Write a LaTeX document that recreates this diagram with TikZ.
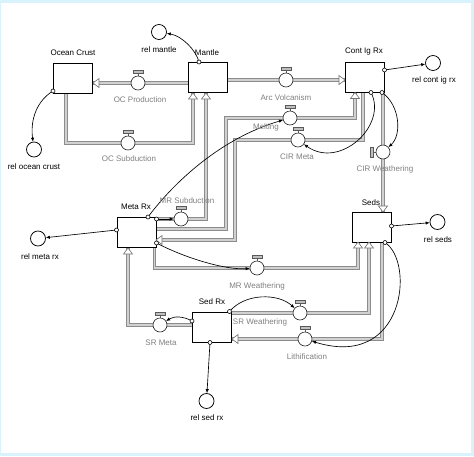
\documentclass[tikz,border=0pt]{standalone}
\usepackage{fontspec}
\setmainfont{Liberation Sans}
\usetikzlibrary{arrows.meta}
\tikzset{
 pipe/.style={line width=0.8pt, double distance=1.6pt, draw=black!45, double=black!18},
 stockbox/.style={draw=black, line width=1pt, fill=white, minimum width=39pt, minimum height=30pt, inner sep=0pt},
 valvec/.style={circle, draw=black!85, fill=white, line width=0.6pt, minimum size=14pt, inner sep=0pt},
 ghost/.style={circle, draw=black, fill=white, line width=0.75pt, minimum size=15pt, inner sep=0pt},
 slabel/.style={font=\fontsize{8}{9}\selectfont, text=black, inner sep=0pt},
 vlabel/.style={font=\fontsize{8}{9}\selectfont, text=black!50, inner sep=0pt},
 conn/.style={line width=0.65pt, draw=black, -{Latex[length=4pt,width=3.4pt]}},
 cdot/.style={circle, draw=black, fill=white, line width=0.6pt, minimum size=4pt, inner sep=0pt},
}
\newcommand\flowtip[3]{\draw[black!55, fill=white, line width=0.6pt, shift={(#1,#2)}, rotate=#3] (0,0) -- (-6,4.5) -- (-6,-4.5) -- cycle;}
\newcommand\mkvalve[3]{%
 \draw[black!65, fill=black!25, line width=0.4pt] (#2-5,#3-12.5) rectangle (#2+5,#3-10);
 \draw[black!65, line width=0.6pt] (#2,#3-10) -- (#2,#3-7);
 \node[valvec] (#1) at (#2,#3) {};}
\newcommand\mkvalveL[3]{%
 \draw[black!65, fill=black!25, line width=0.4pt] (#2-12.5,#3-5) rectangle (#2-10,#3+5);
 \draw[black!65, line width=0.6pt] (#2-10,#3) -- (#2-7,#3);
 \node[valvec] (#1) at (#2,#3) {};}
\begin{document}
\begin{tikzpicture}[x=1pt,y=-1pt]
\useasboundingbox (0,0) rectangle (474,456);
\fill[cyan!15!white] (0,0) rectangle (474,456);
\fill[white] (0.5,3) rectangle (471,452.5);

% stocks (placed first so pipes can refer to them; redrawn later on top)
\node[stockbox] (oc) at (73,78.5) {};
\node[stockbox] (mantle) at (207.5,77.5) {};
\node[stockbox] (cont) at (364.5,77) {};
\node[stockbox] (meta) at (136.5,232.5) {};
\node[stockbox] (seds) at (371.5,227) {};
\node[stockbox] (sedrx) at (212,327) {};

% valve positions
\coordinate (ocprodP) at (138,83);
\coordinate (ocsubP) at (128,143);
\coordinate (arcvolP) at (286,80);
\coordinate (meltingP) at (290,118);
\coordinate (cirmetaP) at (298,140);
\coordinate (cirweathP) at (383,152);
\coordinate (mrsubP) at (181,219);
\coordinate (mrweathP) at (257,268);
\coordinate (srweathP) at (300,313);
\coordinate (lithP) at (305,339);
\coordinate (srmetaP) at (160,325);
\coordinate (meltA) at (226,118);
\coordinate (cirA) at (235,140);

% pipes
\draw[pipe] (mantle.west|-ocprodP) -- (oc.east|-ocprodP);
\draw[pipe] ([xshift=-7pt]oc.south) |- (ocsubP) -| ([xshift=-14.5pt]mantle.south);
\draw[pipe] (mantle.east|-arcvolP) -- (cont.west|-arcvolP);
\draw[pipe] (meta.east|-mrsubP) -| ([xshift=-1.5pt]mantle.south);
\draw[pipe] ([yshift=3.5pt]meta.east) -| (meltA) -- (meltingP) -| ([xshift=-9.5pt]cont.south);
\draw[pipe] ([xshift=-1.5pt]cont.south) |- (cirmetaP) -- (cirA) |- ([yshift=-7.5pt]meta.east);
\draw[pipe] (cont.south-|cirweathP) -- (seds.north-|cirweathP);
\draw[pipe] ([xshift=-2pt]meta.south east) |- (mrweathP) -| ([xshift=-13.5pt]seds.south);
\draw[pipe] (sedrx.east|-srweathP) -| ([xshift=-2.5pt]seds.south);
\draw[pipe] ([xshift=10.5pt]seds.south) |- (lithP) -- (sedrx.east|-lithP);
\draw[pipe] (sedrx.west|-srmetaP) -| ([xshift=-8.5pt]meta.south);

% stocks on top
\node[stockbox] at (oc) {};
\node[stockbox] at (mantle) {};
\node[stockbox] at (cont) {};
\node[stockbox] at (meta) {};
\node[stockbox] at (seds) {};
\node[stockbox] at (sedrx) {};

% flow arrowheads
\flowtip{93}{83}{180}
\flowtip{193}{93}{90}
\flowtip{206}{93}{90}
\flowtip{345}{80}{0}
\flowtip{355}{92.5}{90}
\flowtip{383}{212}{270}
\flowtip{156}{240}{180}
\flowtip{358}{242}{90}
\flowtip{369}{242}{90}
\flowtip{232}{339}{180}
\flowtip{128}{248}{90}

% valves
\mkvalve{ocprod}{138}{83}
\mkvalve{ocsub}{128}{143}
\mkvalve{arcvol}{286}{80}
\mkvalve{melting}{290}{118}
\mkvalve{cirmeta}{298}{140}
\mkvalveL{cirweath}{383}{152}
\mkvalve{mrsub}{181}{219}
\mkvalve{mrweath}{257}{268}
\mkvalve{srweath}{300}{313}
\mkvalve{lith}{305}{339}
\mkvalve{srmeta}{160}{325}

% ghosts
\node[ghost] (relmantle) at (159,32) {};
\node[ghost] (relocean) at (34,149.5) {};
\node[ghost] (relcont) at (433,63) {};
\node[ghost] (relmeta) at (38,238.5) {};
\node[ghost] (relseds) at (437.5,222) {};
\node[ghost] (relsedrx) at (206.5,401) {};

% connectors
\coordinate (c1) at ([yshift=-12.5pt]oc.west);
\coordinate (c2) at ([xshift=-8.5pt]mantle.north);
\coordinate (c3) at ([yshift=7pt]cont.east);
\coordinate (c4) at ([xshift=6.5pt]cont.south);
\coordinate (c5) at ([xshift=17.5pt]cont.south);
\coordinate (c6) at ([xshift=11.5pt]meta.north);
\coordinate (c7) at ([yshift=2.5pt]meta.west);
\coordinate (c8) at ([yshift=13.5pt]meta.east);
\coordinate (c9) at ([yshift=-10.5pt]meta.east);
\coordinate (c10) at ([yshift=1pt]seds.east);
\coordinate (c11) at ([xshift=13.5pt]seds.south);
\coordinate (c12) at ([xshift=-2.5pt]sedrx.north east);
\coordinate (c13) at ([yshift=6pt]sedrx.west);
\coordinate (c14) at ([xshift=-2pt]sedrx.south);

\draw[conn] (c1) .. controls (38,100) and (30,118) .. (relocean);
\draw[conn] (c2) .. controls (196,50) and (182,36) .. (relmantle);
\draw[conn] (c3) -- (relcont);
\draw[conn] (c4) .. controls (388,125) and (340,170) .. (cirmeta);
\draw[conn] (c5) .. controls (400,105) and (402,135) .. (cirweath);
\draw[conn] (c6) .. controls (168,190) and (215,140) .. (melting);
\draw[conn] (c7) -- (relmeta);
\draw[conn] (c8) -- (mrsub);
\draw[conn] (c9) .. controls (185,258) and (225,270) .. (mrweath);
\draw[conn] (c10) -- (relseds);
\draw[conn] (c11) .. controls (415,262) and (405,370) .. (lith);
\draw[conn] (c12) .. controls (245,293) and (278,293) .. (srweath);
\draw[conn] (c13) .. controls (183,316) and (174,316) .. (srmeta);
\draw[conn] (c14) -- (relsedrx);

\foreach \c in {c1,c2,c3,c4,c5,c6,c7,c8,c9,c10,c11,c12,c13,c14}
  \node[cdot] at (\c) {};

% stock labels
\node[slabel] (locean) at (73,53) {Ocean Crust};
\node[slabel] (lmantle) at (207,53) {Mantle};
\node[slabel] (lcont) at (364,52) {Cont Ig Rx};
\node[slabel] (lmeta) at (136,207) {Meta Rx};
\node[slabel] (lseds) at (371,203) {Seds};
\node[slabel] (lsedrx) at (212,302) {Sed Rx};

% ghost labels
\node[slabel] (lrelmantle) at (159,50) {rel mantle};
\node[slabel] (lrelocean) at (34,167) {rel ocean crust};
\node[slabel] (lrelcont) at (434,80) {rel cont ig rx};
\node[slabel] (lrelmeta) at (40,257) {rel meta rx};
\node[slabel] (lrelseds) at (438,240) {rel seds};
\node[slabel] (lrelsedrx) at (207,418) {rel sed rx};

% valve labels
\node[vlabel] (locprod) at (140,100) {OC Production};
\node[vlabel] (locsub) at (129,159) {OC Subduction};
\node[vlabel] (larcvol) at (286,98) {Arc Volcanism};
\node[vlabel] (lmelting) at (266,127) {Melting};
\node[vlabel] (lcirmeta) at (297,157) {CIR Meta};
\node[vlabel] (lcirweath) at (385,169) {CIR Weathering};
\node[vlabel] (lmrsub) at (187,201) {MR Subduction};
\node[vlabel] (lmrweath) at (257,286) {MR Weathering};
\node[vlabel] (lsrweath) at (260,322) {SR Weathering};
\node[vlabel] (llith) at (307,357) {Lithification};
\node[vlabel] (lsrmeta) at (161,343) {SR Meta};
\end{tikzpicture}
\end{document}
